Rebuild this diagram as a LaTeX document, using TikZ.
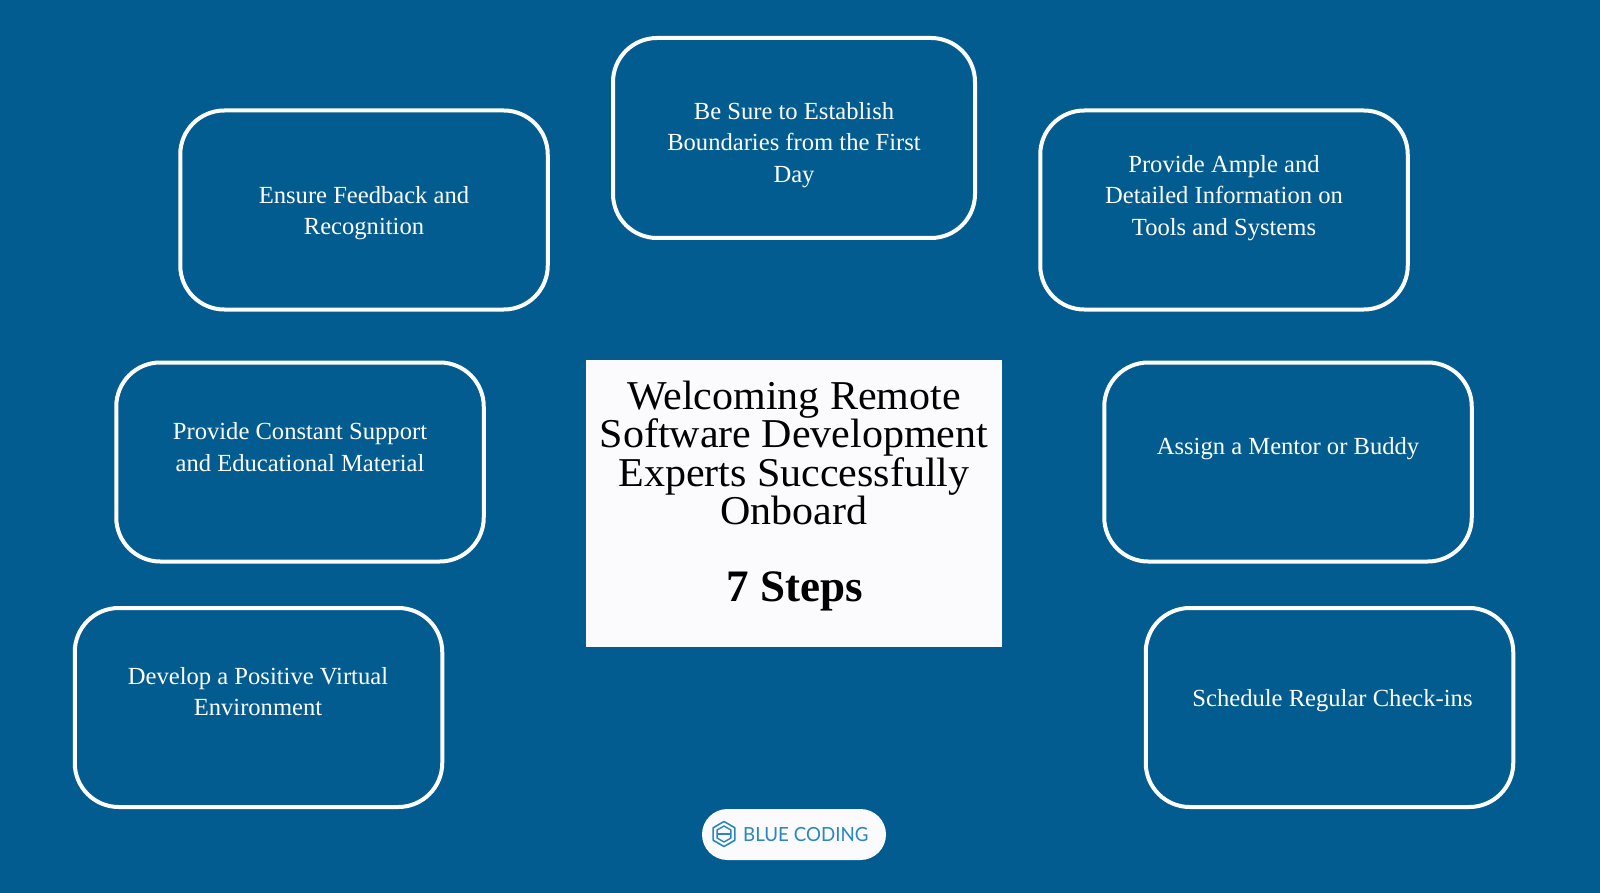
\documentclass[tikz,border=0pt]{standalone}
\usepackage{fontspec}
\usetikzlibrary{calc}
\setmainfont{Liberation Serif}
\newfontfamily\titlefont[FakeStretch=1.025]{Liberation Serif}
\newfontfamily\logofont[FakeStretch=0.96]{Lato}
\definecolor{bgblue}{HTML}{025C8F}
\definecolor{logoblue}{HTML}{2A86C0}
\definecolor{paper}{HTML}{FBFBFE}
\tikzset{
  stepbox/.style={draw=white,line width=4pt,rounded corners=44pt,inner sep=0pt,fill=none,minimum width=367.5pt,minimum height=199pt},
  steptext/.style={text=white,align=center,font=\fontsize{24.6}{31.4}\selectfont,inner sep=0pt},
  titletext/.style={text=black,align=center,font=\titlefont\fontsize{41}{38.2}\selectfont,inner sep=0pt},
}
\begin{document}
\begin{tikzpicture}[x=1pt,y=-1pt]
\useasboundingbox (0,0) rectangle (1600,893);
\fill[bgblue] (0,0) rectangle (1600,893);
\node[stepbox,minimum width=362pt,minimum height=200pt] (b1) at (794,138) {};
\node[stepbox] (b2) at (364,210) {};
\node[stepbox] (b3) at (1224,210) {};
\node[stepbox] (b4) at (300,462) {};
\node[stepbox] (b5) at (1288,462) {};
\node[stepbox] (b6) at (258.5,707.5) {};
\node[stepbox] (b7) at (1329.5,707.5) {};
\node[steptext] (t1) at (794,145) {Be Sure to Establish\\Boundaries from the First\\Day};
\node[steptext] (t2) at (364,213) {Ensure Feedback and\\Recognition};
\node[steptext] (t3) at (1224,198) {Provide Ample and\\Detailed Information on\\Tools and Systems};
\node[steptext] (t4) at (300,447) {Provide Constant Support\\and Educational Material};
\node[steptext] (t5) at (1288,448.5) {Assign a Mentor or Buddy};
\node[steptext] (t6) at (258,691.5) {Develop a Positive Virtual\\Environment\hspace{6pt}};
\node[steptext] (t7) at (1332.5,701) {Schedule Regular Check-ins};
\node[fill=paper,minimum width=416pt,minimum height=287pt,inner sep=0pt] (c) at (794,503.5) {};
\node[titletext] (ct) at (794,453) {Welcoming Remote\\Software Development\\Experts Successfully\\Onboard};
\node[text=black,font=\fontsize{45}{45}\selectfont\bfseries,inner sep=0pt] (cs) at (794.5,591) {7 Steps};
\node[fill=paper,rounded corners=25.5pt,minimum width=184pt,minimum height=51pt,inner sep=0pt] (logo) at (794,834.5) {};
\node[text=logoblue,font=\logofont\fontsize{19.5}{20}\selectfont,inner sep=0pt,anchor=west] (lt) at (743,834.5) {BLUE CODING};
\coordinate (h) at (724,834);
\draw[logoblue,line width=1.6pt,line join=round] ($(h)+(90:12.5)$) -- ($(h)+(150:12.5)$) -- ($(h)+(210:12.5)$) -- ($(h)+(270:12.5)$) -- ($(h)+(330:12.5)$) -- ($(h)+(30:12.5)$) -- cycle;
\draw[logoblue,line width=1.4pt,line join=round] ($(h)+(90:8)$) -- ($(h)+(150:8)$) -- ($(h)+(210:8)$) -- ($(h)+(270:8)$) -- ($(h)+(330:8)$) -- ($(h)+(30:8)$) -- cycle;
\draw[logoblue,line width=1.4pt] ($(h)+(-6.5,0)$) -- ($(h)+(6.5,0)$);
\end{tikzpicture}
\end{document}
